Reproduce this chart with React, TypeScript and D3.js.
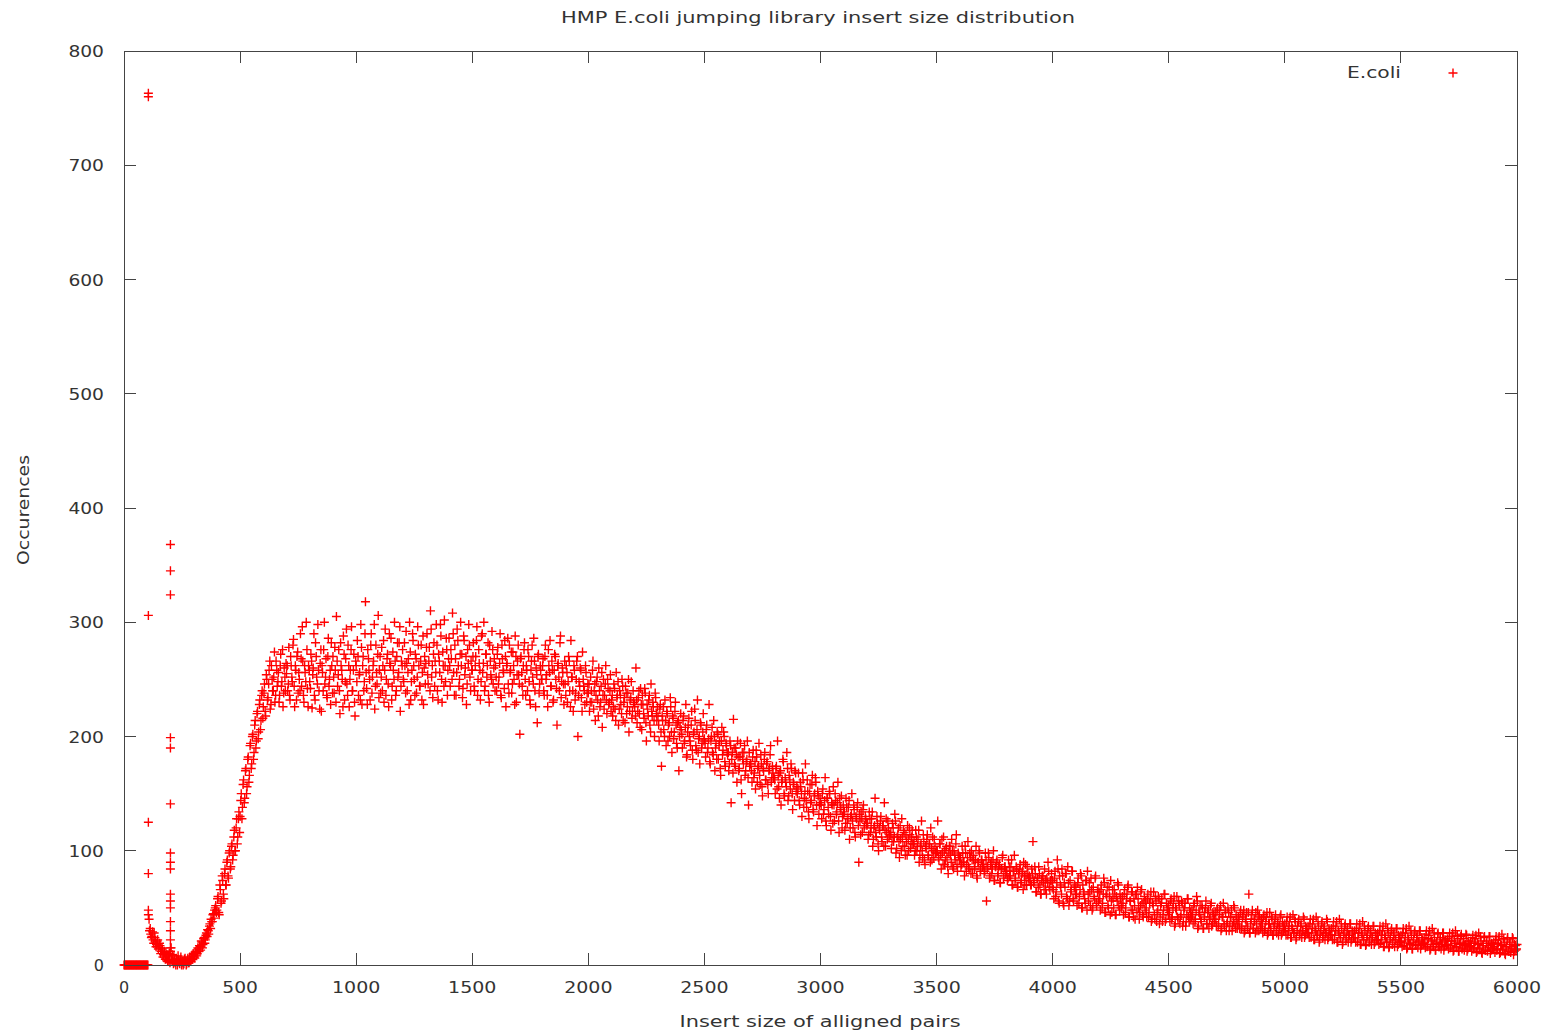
import React, { useEffect } from "react";
import * as d3 from "d3";

// ---- data ----
const title = "HMP E.coli jumping library insert size distribution";
const xLabel = "Insert size of alligned pairs";
const yLabel = "Occurences";
const seriesName = "E.coli";

const xTicks = [0, 500, 1000, 1500, 2000, 2500, 3000, 3500, 4000, 4500, 5000, 5500, 6000];
const yTicks = [0, 100, 200, 300, 400, 500, 600, 700, 800];

// counts at insert sizes 0, 5, 10, ... 6000
const startA = 0;
const stepA = 5;
const countsA0 = [
  0, 0, 0, 0, 0, 0, 0, 0, 0, 0, 0, 0, 0, 0, 0, 0, 0, 0, 0, 0,
  0, 48, 30, 27, 25, 22, 28, 20, 18, 22, 15, 17, 12, 14, 9, 11, 6, 8, 4, 10,
  12, 5, 3, 8, 2, 6, 0, 4, 1, 7, 2, 0, 5, 3, 1, 6, 2, 4, 8, 5,
  9, 6, 12, 10, 14, 17, 13, 20, 18, 24, 22, 28, 31, 27, 36, 40, 38, 45, 48, 52,
  48, 60, 44, 66, 56, 74, 58, 84, 70, 92, 76, 100, 86, 106, 96, 118, 100, 128, 112, 134,
  130, 150, 138, 162, 146, 172, 156, 182, 166, 194, 176, 202, 186, 214, 196, 222, 204, 232, 214, 240,
  226, 246, 218, 250, 234, 258, 224, 262, 240, 252, 230, 266, 244, 256, 236, 272, 248, 226, 260, 240,
  255, 240, 278, 232, 262, 248, 285, 226, 258, 270, 238, 250, 290, 244, 266, 230, 256, 300, 242, 262,
  248, 272, 225, 260, 236, 282, 252, 298, 240, 264, 222, 256, 276, 246, 268, 234, 286, 250, 228, 262,
  270, 238, 258, 305, 244, 276, 220, 262, 250, 288, 232, 268, 246, 280, 226, 258, 296, 240, 272, 218,
];
const countsA1 = [
  262, 284, 236, 256, 298, 228, 270, 248, 318, 242, 276, 258, 232, 290, 252, 266, 224, 280, 246, 306,
  258, 238, 278, 262, 230, 294, 250, 272, 226, 264, 286, 244, 258, 300, 236, 270, 252, 282, 222, 266,
  276, 248, 262, 292, 240, 268, 300, 232, 258, 284, 250, 272, 238, 296, 262, 244, 280, 256, 228, 270,
  264, 290, 246, 278, 310, 252, 234, 282, 266, 298, 240, 272, 256, 288, 230, 262, 302, 248, 276, 258,
  286, 244, 268, 308, 256, 280, 236, 294, 262, 250, 300, 272, 242, 284, 260, 228, 276, 298, 252, 266,
  258, 282, 240, 270, 296, 250, 264, 232, 288, 256, 300, 244, 272, 262, 236, 280, 254, 292, 246, 268,
  262, 240, 278, 252, 290, 234, 268, 256, 284, 226, 264, 246, 280, 258, 238, 274, 250, 288, 230, 266,
  254, 202, 270, 244, 262, 282, 236, 258, 276, 248, 228, 266, 252, 286, 240, 260, 212, 272, 246, 258,
  250, 268, 236, 280, 254, 226, 262, 284, 244, 258, 232, 272, 250, 210, 264, 240, 288, 248, 256, 228,
  246, 262, 230, 270, 240, 284, 252, 222, 258, 238, 266, 200, 248, 260, 234, 274, 244, 228, 256, 238,
];
const countsA2 = [
  238, 222, 252, 230, 266, 240, 214, 248, 232, 260, 226, 244, 208, 250, 236, 262, 220, 242, 230, 254,
  232, 218, 246, 224, 256, 236, 210, 240, 228, 250, 214, 234, 244, 220, 238, 204, 232, 248, 222, 230,
  226, 260, 212, 234, 220, 242, 206, 228, 216, 238, 196, 224, 232, 210, 246, 218, 226, 200, 234, 214,
  218, 196, 228, 174, 214, 206, 232, 192, 220, 210, 200, 226, 186, 216, 204, 230, 194, 212, 170, 208,
  206, 190, 218, 196, 228, 184, 210, 200, 192, 222, 180, 204, 214, 188, 232, 198, 176, 210, 194, 220,
  198, 182, 210, 190, 228, 176, 200, 186, 214, 170, 194, 204, 180, 196, 166, 208, 188, 200, 174, 192,
  184, 170, 196, 142, 186, 215, 176, 190, 160, 182, 172, 194, 150, 180, 186, 166, 178, 196, 140, 174,
  176, 160, 188, 168, 154, 182, 172, 194, 158, 176, 148, 170, 186, 162, 178, 150, 172, 192, 164, 168,
  164, 150, 174, 196, 156, 168, 140, 162, 178, 148, 160, 186, 144, 166, 154, 172, 136, 158, 170, 152,
  150, 168, 140, 156, 130, 162, 146, 176, 138, 152, 128, 158, 144, 166, 134, 150, 160, 122, 148, 140,
];
const countsA3 = [
  142, 128, 154, 136, 164, 122, 146, 132, 150, 118, 140, 156, 126, 144, 134, 160, 116, 138, 148, 130,
  132, 118, 146, 124, 138, 110, 130, 150, 120, 136, 112, 128, 142, 90, 126, 134, 116, 140, 122, 128,
  122, 110, 134, 116, 128, 104, 120, 146, 112, 124, 100, 118, 130, 108, 122, 142, 104, 116, 126, 112,
  114, 102, 124, 108, 132, 98, 112, 120, 94, 110, 128, 104, 116, 96, 108, 122, 100, 114, 106, 118,
  106, 96, 118, 100, 110, 90, 104, 126, 94, 108, 88, 102, 114, 96, 106, 120, 92, 100, 110, 98,
  100, 126, 92, 106, 84, 98, 112, 88, 102, 94, 80, 104, 96, 110, 86, 100, 92, 114, 82, 96,
  94, 86, 104, 90, 78, 98, 88, 108, 84, 94, 100, 80, 92, 86, 104, 76, 90, 98, 84, 92,
  88, 80, 98, 56, 86, 94, 78, 90, 84, 100, 74, 86, 92, 80, 88, 72, 84, 96, 78, 86,
  82, 74, 92, 78, 86, 70, 82, 96, 76, 84, 68, 80, 88, 74, 82, 90, 70, 78, 86, 76,
  78, 70, 84, 108, 74, 80, 64, 76, 86, 70, 62, 78, 72, 84, 66, 76, 90, 68, 74, 80,
];
const countsA4 = [
  74, 58, 82, 64, 92, 56, 78, 68, 84, 54, 72, 80, 60, 86, 52, 74, 66, 82, 56, 70,
  68, 52, 76, 60, 80, 50, 70, 62, 54, 74, 82, 56, 64, 76, 48, 68, 58, 78, 52, 66,
  64, 48, 70, 54, 76, 46, 62, 68, 50, 60, 74, 46, 58, 66, 44, 60, 72, 52, 62, 50,
  60, 44, 66, 50, 62, 70, 42, 56, 64, 48, 58, 40, 62, 68, 50, 46, 64, 54, 42, 60,
  56, 42, 62, 46, 58, 38, 54, 64, 40, 56, 46, 60, 36, 52, 58, 44, 62, 38, 54, 48,
  52, 38, 58, 42, 54, 34, 50, 60, 40, 52, 42, 56, 34, 48, 54, 38, 58, 42, 50, 40,
  48, 36, 54, 40, 60, 32, 46, 52, 38, 50, 32, 46, 56, 36, 48, 40, 52, 34, 46, 38,
  46, 34, 50, 36, 48, 30, 42, 54, 34, 46, 36, 50, 30, 42, 48, 34, 52, 36, 44, 32,
  42, 32, 48, 34, 44, 28, 40, 46, 32, 62, 28, 40, 48, 32, 38, 46, 30, 42, 44, 32,
  40, 28, 44, 32, 42, 26, 36, 46, 30, 40, 26, 36, 44, 28, 38, 32, 42, 26, 38, 30,
];
const countsA5 = [
  36, 26, 42, 30, 38, 24, 34, 44, 28, 38, 24, 34, 40, 28, 36, 30, 42, 24, 34, 28,
  34, 24, 40, 28, 36, 22, 32, 42, 26, 34, 22, 30, 38, 26, 34, 28, 40, 22, 32, 26,
  32, 22, 38, 26, 34, 20, 30, 40, 24, 32, 20, 28, 36, 24, 32, 26, 36, 20, 30, 24,
  30, 20, 36, 24, 32, 18, 28, 38, 22, 30, 18, 26, 34, 22, 30, 24, 34, 18, 28, 22,
  28, 18, 34, 22, 30, 16, 26, 36, 20, 28, 16, 24, 32, 20, 28, 22, 32, 16, 26, 20,
  26, 16, 32, 20, 28, 14, 24, 34, 18, 26, 14, 22, 30, 18, 26, 20, 30, 14, 24, 18,
  24, 15, 30, 18, 26, 13, 22, 32, 16, 24, 13, 20, 28, 16, 24, 18, 28, 13, 22, 17,
  23, 14, 28, 17, 25, 12, 21, 30, 15, 23, 12, 19, 27, 15, 23, 17, 27, 12, 21, 16,
  21, 12, 26, 15, 23, 11, 19, 28, 14, 21, 10, 17, 25, 13, 21, 15, 25, 10, 19, 14,
  20, 11, 25, 14, 22, 10, 18, 27, 13, 20, 9, 16, 24, 12, 20, 14, 24, 9, 18, 13,
  18,
];

// counts at insert sizes 3, 8, 13, ... 5998
const startB = 3;
const stepB = 5;
const countsB0 = [
  0, 0, 0, 0, 0, 0, 0, 0, 0, 0, 0, 0, 0, 0, 0, 0, 0, 0, 0, 0,
  0, 40, 32, 24, 29, 19, 24, 16, 21, 14, 19, 10, 15, 7, 12, 5, 9, 3, 7, 2,
  15, 9, 1, 4, 0, 3, 8, 2, 5, 0, 3, 1, 6, 0, 4, 2, 7, 3, 5, 10,
  7, 11, 8, 15, 12, 16, 21, 15, 23, 19, 26, 25, 30, 34, 32, 38, 44, 41, 50, 46,
  58, 46, 70, 54, 78, 62, 80, 70, 90, 78, 98, 84, 104, 92, 112, 100, 120, 106, 128, 116,
  144, 128, 158, 142, 170, 150, 180, 160, 192, 172, 200, 180, 210, 190, 220, 198, 228, 206, 236, 216,
  238, 222, 254, 232, 246, 266, 228, 250, 240, 274, 236, 258, 248, 230, 262, 244, 276, 238, 252, 264,
  262, 246, 236, 270, 252, 280, 244, 262, 232, 274, 256, 240, 268, 296, 236, 262, 248, 276, 226, 258,
  242, 266, 254, 290, 232, 270, 246, 258, 224, 276, 262, 240, 300, 252, 236, 270, 244, 258, 282, 238,
  252, 278, 230, 266, 254, 240, 282, 258, 226, 272, 248, 294, 236, 262, 250, 276, 240, 258, 230, 266,
];
const countsB1 = [
  248, 270, 254, 232, 278, 262, 240, 290, 256, 228, 268, 250, 280, 238, 262, 298, 244, 256, 272, 234,
  270, 252, 240, 284, 258, 236, 268, 246, 290, 262, 232, 274, 250, 266, 240, 282, 256, 296, 244, 262,
  250, 282, 238, 264, 256, 228, 274, 248, 290, 262, 236, 268, 252, 280, 244, 266, 232, 288, 260, 246,
  278, 254, 266, 240, 294, 262, 272, 244, 256, 280, 232, 266, 298, 250, 274, 244, 262, 286, 236, 268,
  262, 276, 250, 290, 236, 268, 256, 284, 244, 272, 262, 234, 288, 254, 270, 246, 264, 280, 240, 258,
  270, 244, 262, 284, 236, 276, 258, 248, 290, 264, 240, 272, 252, 282, 230, 266, 250, 276, 260, 240,
  252, 272, 246, 264, 236, 280, 258, 242, 270, 262, 286, 238, 256, 274, 246, 262, 228, 270, 254, 280,
  246, 268, 256, 236, 276, 250, 262, 240, 270, 232, 258, 280, 246, 266, 226, 254, 270, 238, 262, 250,
  262, 240, 270, 250, 236, 276, 256, 244, 266, 230, 258, 270, 242, 262, 252, 282, 234, 260, 246, 266,
  236, 256, 248, 266, 226, 252, 240, 262, 232, 250, 270, 236, 244, 258, 222, 250, 240, 262, 230, 246,
];
const countsB2 = [
  246, 230, 240, 258, 224, 246, 236, 252, 218, 240, 230, 256, 236, 224, 246, 232, 250, 228, 240, 222,
  236, 226, 242, 214, 234, 248, 224, 236, 220, 244, 230, 212, 238, 226, 250, 222, 234, 216, 240, 228,
  218, 232, 222, 240, 208, 228, 236, 220, 242, 212, 228, 218, 236, 204, 222, 230, 214, 238, 220, 226,
  210, 224, 204, 218, 226, 200, 214, 222, 196, 212, 234, 204, 218, 198, 222, 210, 190, 214, 200, 220,
  202, 214, 194, 208, 182, 204, 216, 196, 210, 188, 202, 224, 192, 206, 186, 200, 212, 190, 204, 196,
  194, 206, 186, 198, 178, 196, 208, 184, 200, 190, 180, 202, 192, 172, 196, 184, 204, 178, 194, 186,
  186, 176, 192, 180, 168, 190, 174, 184, 196, 170, 182, 162, 186, 176, 192, 170, 180, 164, 186, 176,
  170, 182, 164, 178, 188, 160, 174, 166, 184, 156, 172, 180, 162, 176, 158, 170, 184, 160, 174, 164,
  162, 172, 154, 166, 146, 170, 160, 180, 150, 164, 156, 172, 148, 162, 176, 150, 160, 144, 168, 156,
  154, 144, 160, 150, 168, 138, 152, 144, 162, 134, 150, 142, 158, 136, 148, 164, 140, 152, 132, 146,
];
const countsB3 = [
  140, 150, 132, 144, 126, 146, 138, 152, 130, 142, 124, 140, 150, 132, 142, 126, 146, 136, 120, 140,
  134, 124, 138, 128, 144, 120, 132, 126, 140, 116, 130, 138, 122, 132, 114, 128, 136, 120, 130, 124,
  124, 114, 128, 120, 134, 110, 122, 116, 130, 106, 120, 126, 112, 122, 104, 118, 128, 110, 120, 114,
  116, 108, 120, 112, 126, 102, 114, 108, 122, 100, 112, 118, 104, 114, 96, 110, 120, 102, 112, 106,
  108, 100, 112, 104, 118, 96, 106, 100, 114, 92, 104, 110, 96, 106, 90, 102, 112, 94, 104, 98,
  100, 94, 106, 96, 110, 88, 100, 92, 104, 86, 98, 104, 90, 100, 84, 96, 106, 88, 98, 92,
  94, 88, 98, 90, 104, 82, 94, 86, 98, 80, 92, 96, 84, 92, 78, 90, 100, 82, 92, 86,
  88, 82, 92, 84, 98, 76, 88, 80, 92, 74, 86, 90, 78, 86, 72, 84, 94, 76, 86, 80,
  82, 76, 86, 78, 92, 70, 82, 74, 86, 68, 80, 84, 72, 80, 66, 78, 88, 70, 80, 74,
  76, 70, 80, 72, 86, 64, 76, 68, 80, 62, 74, 78, 66, 74, 62, 72, 82, 66, 74, 68,
];
const countsB4 = [
  66, 76, 60, 72, 84, 54, 70, 62, 78, 52, 68, 80, 58, 72, 56, 64, 82, 58, 68, 62,
  62, 72, 54, 66, 78, 50, 64, 58, 74, 48, 62, 72, 52, 66, 50, 60, 76, 54, 64, 56,
  58, 66, 50, 62, 72, 46, 60, 52, 68, 44, 56, 66, 50, 62, 44, 56, 70, 48, 58, 52,
  54, 62, 46, 58, 68, 42, 56, 48, 64, 42, 52, 62, 46, 58, 40, 52, 66, 44, 54, 48,
  50, 58, 42, 54, 64, 40, 52, 44, 60, 38, 48, 58, 42, 54, 38, 48, 62, 40, 50, 44,
  46, 56, 40, 50, 60, 36, 48, 42, 56, 36, 44, 54, 38, 50, 34, 44, 58, 38, 46, 42,
  44, 52, 38, 48, 56, 34, 44, 40, 52, 32, 42, 50, 36, 46, 32, 42, 54, 36, 44, 40,
  40, 48, 34, 44, 52, 32, 42, 36, 48, 30, 38, 46, 34, 42, 30, 38, 50, 32, 40, 36,
  38, 46, 32, 42, 48, 30, 38, 34, 46, 28, 36, 44, 32, 40, 28, 36, 48, 30, 38, 34,
  36, 42, 30, 38, 46, 28, 36, 32, 42, 26, 34, 40, 30, 36, 26, 34, 44, 28, 34, 32,
];
const countsB5 = [
  30, 38, 26, 34, 42, 24, 32, 28, 40, 22, 30, 38, 26, 34, 24, 30, 40, 26, 32, 28,
  28, 36, 24, 32, 40, 22, 30, 26, 38, 20, 28, 36, 24, 32, 22, 28, 38, 24, 30, 26,
  26, 34, 22, 30, 38, 20, 28, 24, 36, 18, 26, 34, 22, 30, 20, 26, 36, 22, 28, 24,
  24, 32, 20, 28, 36, 18, 26, 22, 34, 17, 24, 32, 20, 28, 18, 24, 34, 20, 26, 22,
  22, 30, 19, 26, 34, 16, 24, 20, 32, 15, 22, 30, 18, 26, 16, 22, 32, 18, 24, 20,
  21, 28, 17, 24, 32, 15, 22, 19, 30, 14, 20, 28, 17, 24, 15, 21, 30, 17, 22, 19,
  20, 27, 16, 23, 30, 14, 21, 18, 28, 13, 19, 27, 16, 22, 14, 20, 28, 16, 21, 18,
  18, 25, 15, 21, 28, 13, 19, 16, 26, 12, 18, 25, 14, 20, 13, 18, 26, 14, 19, 16,
  17, 24, 14, 20, 26, 12, 18, 15, 25, 11, 17, 24, 13, 19, 12, 17, 25, 13, 18, 15,
  16, 22, 13, 19, 25, 11, 17, 14, 23, 10, 16, 22, 12, 18, 11, 16, 23, 12, 17, 14,
];

// additional repeated counts at two insert sizes (the two spikes)
const spike1X = 105;
const spike1Counts = [760, 763, 306, 125, 80, 44];
const spike2X = 200;
const spike2Counts = [368, 345, 324, 199, 190, 141, 98, 90, 84, 62, 56, 50, 38, 30, 22, 15];

// ---- layout ----
const W = 1555;
const H = 1034;
const M = { left: 124, right: 1517, top: 51, bottom: 965 };
const FONT = "'DejaVu Sans', Verdana, sans-serif";
const TEXT = "#333";
const AXIS = "#444";
const RED = "#ff0000";

export default function App() {
  useEffect(() => {
    document.body.style.margin = "0";
  }, []);

  const x = d3.scaleLinear().domain([0, 6000]).range([M.left, M.right]);
  const y = d3.scaleLinear().domain([0, 800]).range([M.bottom, M.top]);

  const countsA = [...countsA0, ...countsA1, ...countsA2, ...countsA3, ...countsA4, ...countsA5];
  const countsB = [...countsB0, ...countsB1, ...countsB2, ...countsB3, ...countsB4, ...countsB5];

  const points: [number, number][] = [];
  countsA.forEach((c, i) => points.push([startA + i * stepA, c]));
  countsB.forEach((c, i) => points.push([startB + i * stepB, c]));
  spike1Counts.forEach((c) => points.push([spike1X, c]));
  spike2Counts.forEach((c) => points.push([spike2X, c]));

  const h = 4.5;
  const cross = (cx: number, cy: number) =>
    `M${cx - h},${cy}h${2 * h}M${cx},${cy - h}v${2 * h}`;

  const tick = 12;
  const digitW = 12.7;

  return (
    <svg
      width={W}
      height={H}
      viewBox={`0 0 ${W} ${H}`}
      style={{ position: "absolute", left: 0, top: 0, display: "block", background: "#fff" }}
    >
      <rect x={0} y={0} width={W} height={H} fill="#fff" />
      <text
        x={818}
        y={23}
        textAnchor="middle"
        fontFamily={FONT}
        fontSize={16}
        fill={TEXT}
        textLength={514}
        lengthAdjust="spacingAndGlyphs"
      >
        {title}
      </text>

      <g stroke={AXIS} strokeWidth={1} shapeRendering="crispEdges">
        {yTicks.map((t) => (
          <g key={"yt" + t}>
            <line x1={M.left} x2={M.left + tick} y1={y(t)} y2={y(t)} />
            <line x1={M.right} x2={M.right - tick} y1={y(t)} y2={y(t)} />
          </g>
        ))}
        {xTicks.map((t) => (
          <g key={"xt" + t}>
            <line x1={x(t)} x2={x(t)} y1={M.bottom} y2={M.bottom - tick} />
            <line x1={x(t)} x2={x(t)} y1={M.top} y2={M.top + tick} />
          </g>
        ))}
      </g>

      <g fontFamily={FONT} fontSize={16} fill={TEXT}>
        {yTicks.map((t) => {
          const s = String(t);
          return (
            <text
              key={"yl" + t}
              x={104}
              y={y(t) + 6}
              textAnchor="end"
              textLength={s.length > 1 ? s.length * digitW - 2.5 : undefined}
              lengthAdjust="spacingAndGlyphs"
            >
              {s}
            </text>
          );
        })}
        {xTicks.map((t) => {
          const s = String(t);
          return (
            <text
              key={"xl" + t}
              x={x(t)}
              y={993}
              textAnchor="middle"
              textLength={s.length > 1 ? s.length * digitW - 2.5 : undefined}
              lengthAdjust="spacingAndGlyphs"
            >
              {s}
            </text>
          );
        })}
      </g>

      <text
        x={820}
        y={1027}
        textAnchor="middle"
        fontFamily={FONT}
        fontSize={16}
        fill={TEXT}
        textLength={281}
        lengthAdjust="spacingAndGlyphs"
      >
        {xLabel}
      </text>
      <text
        transform={`translate(29,510) rotate(-90)`}
        textAnchor="middle"
        fontFamily={FONT}
        fontSize={16}
        fill={TEXT}
        textLength={110}
        lengthAdjust="spacingAndGlyphs"
      >
        {yLabel}
      </text>

      <g stroke={RED} strokeWidth={1.4} fill="none">
        {points.map(([px, py], i) => (
          <path key={i} d={cross(x(px), y(py))} />
        ))}
      </g>

      <text
        x={1401}
        y={78}
        textAnchor="end"
        fontFamily={FONT}
        fontSize={16}
        fill={TEXT}
        textLength={54}
        lengthAdjust="spacingAndGlyphs"
      >
        {seriesName}
      </text>
      <path d={cross(1453, 73)} stroke={RED} strokeWidth={1.4} fill="none" />

      <rect
        x={M.left + 0.5}
        y={M.top + 0.5}
        width={M.right - M.left}
        height={M.bottom - M.top}
        fill="none"
        stroke={AXIS}
        strokeWidth={1}
        shapeRendering="crispEdges"
      />
    </svg>
  );
}
